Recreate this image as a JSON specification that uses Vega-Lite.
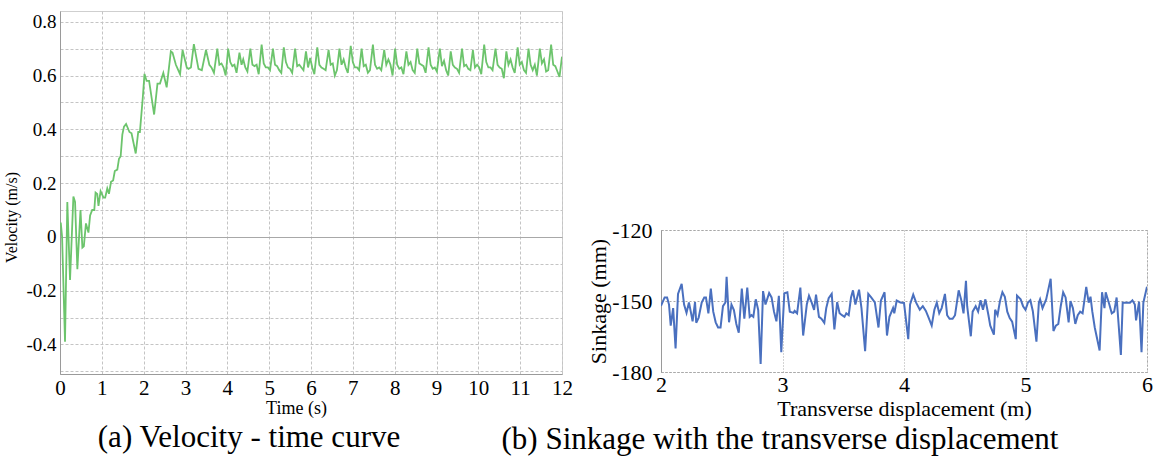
{
  "$schema": "https://vega.github.io/schema/vega-lite/v6.json",
  "background": "white",
  "padding": {"left": 3, "top": 10, "right": 0, "bottom": 0},
  "config": {
    "font": "Liberation Serif",
    "axis": {"labelFont": "Liberation Serif", "titleFont": "Liberation Serif", "labelColor": "#000", "titleColor": "#000", "titleFontWeight": "normal", "labelOverlap": false},
    "title": {"font": "Liberation Serif", "fontWeight": "normal", "color": "#000"}
  },
  "datasets": {
    "vel": [
      {"t":0.00,"v":0.05},{"t":0.02,"v":0.05},{"t":0.05,"v":0.00},{"t":0.12,"v":-0.39},{"t":0.175,"v":0.13},{"t":0.24,"v":-0.16},{"t":0.32,"v":0.15},{"t":0.36,"v":0.13},{"t":0.415,"v":-0.12},{"t":0.49,"v":0.10},{"t":0.535,"v":-0.04},{"t":0.57,"v":-0.035},{"t":0.62,"v":0.05},{"t":0.68,"v":0.016},{"t":0.72,"v":0.08},{"t":0.77,"v":0.10},{"t":0.82,"v":0.10},{"t":0.85,"v":0.165},{"t":0.89,"v":0.16},{"t":0.92,"v":0.115},{"t":0.97,"v":0.17},{"t":1.04,"v":0.146},{"t":1.08,"v":0.146},{"t":1.13,"v":0.18},{"t":1.17,"v":0.16},{"t":1.22,"v":0.205},{"t":1.27,"v":0.21},{"t":1.31,"v":0.245},{"t":1.37,"v":0.25},{"t":1.41,"v":0.29},{"t":1.45,"v":0.30},{"t":1.49,"v":0.38},{"t":1.53,"v":0.41},{"t":1.58,"v":0.42},{"t":1.66,"v":0.39},{"t":1.71,"v":0.385},{"t":1.81,"v":0.31},{"t":1.87,"v":0.39},{"t":1.91,"v":0.39},{"t":1.98,"v":0.52},{"t":2.02,"v":0.606},{"t":2.07,"v":0.58},{"t":2.13,"v":0.58},{"t":2.25,"v":0.455},{"t":2.33,"v":0.57},{"t":2.39,"v":0.57},{"t":2.47,"v":0.61},{"t":2.55,"v":0.556},{"t":2.65,"v":0.69},{"t":2.69,"v":0.685},{"t":2.77,"v":0.64},{"t":2.87,"v":0.605},{"t":2.93,"v":0.695},{"t":3.03,"v":0.63},{"t":3.07,"v":0.625},{"t":3.13,"v":0.63},{"t":3.20,"v":0.717},{"t":3.31,"v":0.625},{"t":3.39,"v":0.62},{"t":3.49,"v":0.695},{"t":3.57,"v":0.64},
      {"t":3.62,"v":0.63},{"t":3.68,"v":0.61},{"t":3.76,"v":0.70},{"t":3.81,"v":0.64},{"t":3.86,"v":0.645},{"t":3.91,"v":0.63},{"t":3.96,"v":0.60},{"t":4.02,"v":0.70},{"t":4.07,"v":0.65},{"t":4.12,"v":0.635},{"t":4.17,"v":0.64},{"t":4.22,"v":0.61},{"t":4.29,"v":0.685},{"t":4.34,"v":0.64},{"t":4.38,"v":0.66},{"t":4.43,"v":0.63},{"t":4.48,"v":0.615},{"t":4.55,"v":0.70},{"t":4.60,"v":0.64},{"t":4.65,"v":0.635},{"t":4.70,"v":0.64},{"t":4.75,"v":0.605},{"t":4.82,"v":0.715},{"t":4.87,"v":0.645},{"t":4.92,"v":0.63},{"t":4.97,"v":0.63},{"t":5.02,"v":0.62},{"t":5.09,"v":0.70},{"t":5.14,"v":0.64},{"t":5.19,"v":0.635},{"t":5.24,"v":0.62},{"t":5.29,"v":0.61},{"t":5.35,"v":0.705},{"t":5.40,"v":0.65},{"t":5.45,"v":0.63},{"t":5.50,"v":0.625},{"t":5.55,"v":0.61},{"t":5.62,"v":0.70},{"t":5.67,"v":0.635},{"t":5.72,"v":0.64},{"t":5.77,"v":0.63},{"t":5.82,"v":0.62},{"t":5.88,"v":0.69},{"t":5.93,"v":0.63},{"t":5.98,"v":0.665},{"t":6.03,"v":0.63},{"t":6.08,"v":0.605},{"t":6.15,"v":0.705},{"t":6.20,"v":0.64},{"t":6.25,"v":0.63},{"t":6.30,"v":0.625},{"t":6.35,"v":0.62},{"t":6.42,"v":0.695},{"t":6.47,"v":0.64},{"t":6.52,"v":0.645},{"t":6.57,"v":0.60},{"t":6.62,"v":0.62},{"t":6.68,"v":0.70},{"t":6.73,"v":0.64},{"t":6.78,"v":0.66},{"t":6.83,"v":0.63},{"t":6.88,"v":0.61},{"t":6.95,"v":0.71},{"t":7.00,"v":0.65},{"t":7.05,"v":0.63},{"t":7.10,"v":0.63},{"t":7.15,"v":0.62},{"t":7.21,"v":0.70},{"t":7.26,"v":0.635},{"t":7.31,"v":0.64},{"t":7.36,"v":0.61},{"t":7.41,"v":0.62},{"t":7.48,"v":0.715},{"t":7.53,"v":0.64},{"t":7.58,"v":0.625},{"t":7.63,"v":0.63},{"t":7.68,"v":0.62},{"t":7.75,"v":0.695},{"t":7.80,"v":0.64},{"t":7.85,"v":0.66},{"t":7.90,"v":0.64},{"t":7.95,"v":0.60},{"t":8.01,"v":0.70},{"t":8.06,"v":0.64},{"t":8.11,"v":0.625},{"t":8.16,"v":0.63},{"t":8.21,"v":0.605},{"t":8.28,"v":0.69},{"t":8.33,"v":0.64},{"t":8.38,"v":0.65},{"t":8.43,"v":0.62},{"t":8.48,"v":0.61},{"t":8.54,"v":0.70},{"t":8.59,"v":0.645},{"t":8.64,"v":0.64},{"t":8.69,"v":0.635},{"t":8.74,"v":0.61},{"t":8.81,"v":0.705},{"t":8.86,"v":0.64},{"t":8.91,"v":0.625},{"t":8.96,"v":0.63},{"t":9.01,"v":0.615},{"t":9.08,"v":0.70},{"t":9.13,"v":0.635},{"t":9.18,"v":0.655},{"t":9.23,"v":0.62},{"t":9.28,"v":0.60},{"t":9.34,"v":0.69},{"t":9.39,"v":0.64},{"t":9.44,"v":0.63},{"t":9.49,"v":0.625},{"t":9.54,"v":0.61},{"t":9.61,"v":0.70},{"t":9.66,"v":0.635},{"t":9.71,"v":0.64},{"t":9.76,"v":0.625},{"t":9.81,"v":0.62},{"t":9.87,"v":0.695},{"t":9.92,"v":0.63},{"t":9.97,"v":0.64},{"t":10.02,"v":0.63},{"t":10.07,"v":0.605},{"t":10.14,"v":0.715},{"t":10.19,"v":0.65},{"t":10.24,"v":0.63},{"t":10.29,"v":0.63},{"t":10.34,"v":0.62},{"t":10.41,"v":0.70},{"t":10.46,"v":0.64},{"t":10.51,"v":0.63},{"t":10.56,"v":0.625},{"t":10.61,"v":0.59},{"t":10.67,"v":0.69},{"t":10.72,"v":0.64},{"t":10.77,"v":0.66},{"t":10.82,"v":0.63},{"t":10.87,"v":0.61},{"t":10.94,"v":0.705},{"t":10.99,"v":0.64},{"t":11.04,"v":0.65},{"t":11.09,"v":0.62},{"t":11.14,"v":0.61},{"t":11.20,"v":0.70},{"t":11.25,"v":0.64},{"t":11.30,"v":0.62},{"t":11.35,"v":0.64},{"t":11.40,"v":0.60},{"t":11.47,"v":0.70},{"t":11.52,"v":0.645},{"t":11.57,"v":0.66},{"t":11.62,"v":0.615},{"t":11.67,"v":0.62},{"t":11.74,"v":0.715},{"t":11.79,"v":0.64},{"t":11.84,"v":0.635},{"t":11.89,"v":0.615},{"t":11.94,"v":0.595},{"t":12.00,"v":0.67}
    ],
    "sink": [
      {"d":2.00,"s":-152},{"d":2.03,"s":-148.5},{"d":2.05,"s":-148.5},{"d":2.066,"s":-151.5},{"d":2.08,"s":-160.4},{"d":2.10,"s":-153},{"d":2.12,"s":-170},{"d":2.14,"s":-147},{"d":2.17,"s":-142.8},{"d":2.19,"s":-151.5},{"d":2.21,"s":-155},{"d":2.23,"s":-150.6},{"d":2.245,"s":-154.5},{"d":2.26,"s":-158.6},{"d":2.28,"s":-150.5},{"d":2.29,"s":-159.2},{"d":2.31,"s":-157},{"d":2.335,"s":-150.7},{"d":2.356,"s":-148.5},{"d":2.37,"s":-148.5},{"d":2.39,"s":-155.2},{"d":2.41,"s":-144.8},{"d":2.43,"s":-154.5},{"d":2.45,"s":-159},{"d":2.47,"s":-161.2},{"d":2.49,"s":-161.2},{"d":2.51,"s":-152.2},{"d":2.53,"s":-150.6},{"d":2.54,"s":-139.8},{"d":2.56,"s":-159},{"d":2.58,"s":-151.5},{"d":2.60,"s":-153.8},{"d":2.62,"s":-159.7},{"d":2.64,"s":-163.4},{"d":2.665,"s":-144.8},{"d":2.686,"s":-157.5},{"d":2.71,"s":-144.3},{"d":2.73,"s":-156.7},{"d":2.745,"s":-156},{"d":2.76,"s":-156.7},{"d":2.78,"s":-149.3},{"d":2.80,"s":-153.8},{"d":2.82,"s":-176.6},{"d":2.84,"s":-145.8},{"d":2.86,"s":-151.5},{"d":2.89,"s":-146.6},{"d":2.91,"s":-148.5},{"d":2.93,"s":-154.5},{"d":2.95,"s":-158.6},{"d":2.97,"s":-147.8},{"d":2.99,"s":-171.6},{"d":3.015,"s":-146.7},{"d":3.04,"s":-146.3},{"d":3.06,"s":-154.5},{"d":3.09,"s":-155},{"d":3.10,"s":-154.2},{"d":3.12,"s":-155.2},{"d":3.147,"s":-144.3},{"d":3.17,"s":-164.6},{"d":3.20,"s":-151.5},{"d":3.218,"s":-147.8},{"d":3.24,"s":-150.6},{"d":3.26,"s":-153.8},{"d":3.276,"s":-147.3},{"d":3.30,"s":-156.7},{"d":3.32,"s":-157.5},{"d":3.344,"s":-159.2},{"d":3.36,"s":-153},{"d":3.38,"s":-148.8},{"d":3.405,"s":-147},{"d":3.427,"s":-162},{"d":3.45,"s":-150.5},{"d":3.47,"s":-155.2},{"d":3.49,"s":-156},{"d":3.51,"s":-156.7},{"d":3.525,"s":-155.2},{"d":3.545,"s":-156},{"d":3.564,"s":-148.5},{"d":3.58,"s":-145.5},{"d":3.60,"s":-151.5},{"d":3.63,"s":-145.2},{"d":3.65,"s":-153},{"d":3.68,"s":-171.2},{"d":3.706,"s":-147},{"d":3.73,"s":-148.5},{"d":3.76,"s":-150.6},{"d":3.79,"s":-161.2},{"d":3.81,"s":-149.8},{"d":3.84,"s":-146.3},{"d":3.86,"s":-164.6},{"d":3.88,"s":-156.7},{"d":3.91,"s":-153},{"d":3.92,"s":-155.2},{"d":3.94,"s":-149.8},{"d":3.97,"s":-150.6},{"d":4.00,"s":-150.8},
      {"d":4.035,"s":-166.1},{"d":4.05,"s":-151.5},{"d":4.076,"s":-147.3},{"d":4.10,"s":-150.7},{"d":4.13,"s":-153.7},{"d":4.155,"s":-152.2},{"d":4.18,"s":-154.2},{"d":4.20,"s":-156.7},{"d":4.228,"s":-160.4},{"d":4.25,"s":-153.7},{"d":4.27,"s":-150.7},{"d":4.29,"s":-155.2},{"d":4.31,"s":-153},{"d":4.337,"s":-147},{"d":4.355,"s":-156},{"d":4.375,"s":-157.5},{"d":4.40,"s":-157.5},{"d":4.42,"s":-156},{"d":4.45,"s":-145.5},{"d":4.47,"s":-149.3},{"d":4.49,"s":-155.2},{"d":4.51,"s":-141.5},{"d":4.52,"s":-152.2},{"d":4.55,"s":-164.9},{"d":4.565,"s":-154.5},{"d":4.59,"s":-152.2},{"d":4.61,"s":-154.5},{"d":4.63,"s":-149.7},{"d":4.65,"s":-153.7},{"d":4.67,"s":-149.3},{"d":4.695,"s":-156},{"d":4.71,"s":-160.4},{"d":4.74,"s":-164.2},{"d":4.75,"s":-153.7},{"d":4.77,"s":-156},{"d":4.79,"s":-150},{"d":4.81,"s":-146.3},{"d":4.83,"s":-148.2},{"d":4.85,"s":-154.5},{"d":4.87,"s":-157.2},{"d":4.89,"s":-158.7},{"d":4.92,"s":-166.1},{"d":4.93,"s":-147.7},{"d":4.96,"s":-149.3},{"d":4.98,"s":-152.2},{"d":5.00,"s":-153.7},{"d":5.02,"s":-150.7},{"d":5.04,"s":-149.7},{"d":5.06,"s":-154.2},{"d":5.09,"s":-167.2},{"d":5.11,"s":-150.7},{"d":5.12,"s":-149.3},{"d":5.14,"s":-153},{"d":5.17,"s":-149.3},{"d":5.18,"s":-147},{"d":5.207,"s":-140.6},{"d":5.23,"s":-162.7},{"d":5.25,"s":-160.4},{"d":5.27,"s":-159.7},{"d":5.29,"s":-152.2},{"d":5.31,"s":-146.3},{"d":5.33,"s":-148.5},{"d":5.355,"s":-159},{"d":5.37,"s":-150},{"d":5.39,"s":-153},{"d":5.41,"s":-159.7},{"d":5.43,"s":-156},{"d":5.45,"s":-154.5},{"d":5.47,"s":-155.2},{"d":5.50,"s":-144},{"d":5.52,"s":-150.7},{"d":5.535,"s":-148.2},{"d":5.55,"s":-154.5},{"d":5.57,"s":-161.2},{"d":5.61,"s":-170.9},{"d":5.63,"s":-146.3},{"d":5.65,"s":-153},{"d":5.66,"s":-146.3},{"d":5.69,"s":-151.5},{"d":5.71,"s":-155.2},{"d":5.73,"s":-154.5},{"d":5.75,"s":-148.5},{"d":5.785,"s":-172.8},{"d":5.80,"s":-150.7},{"d":5.83,"s":-150.7},{"d":5.86,"s":-150.7},{"d":5.88,"s":-149.7},{"d":5.90,"s":-151.5},{"d":5.91,"s":-158.2},{"d":5.935,"s":-150.3},{"d":5.955,"s":-171.6},{"d":5.97,"s":-150.7},{"d":6.00,"s":-144}
    ]
  },
  "bounds": "flush",
  "spacing": 99,
  "hconcat": [
    {
      "width": 502,
      "height": 363,
      "data": {"name": "vel"},
      "view": {"stroke": "#cfcfcf", "strokeWidth": 1},
      "title": {"text": "(a) Velocity - time curve", "orient": "bottom", "anchor": "middle", "frame": "group", "fontSize": 31, "dx": -62, "offset": 6},
      "mark": {"type": "line", "color": "#6cc46c", "strokeWidth": 1.8, "clip": true},
      "encoding": {
        "x": {
          "field": "t", "type": "quantitative",
          "scale": {"domain": [0, 12], "nice": false},
          "axis": {"values": [0,1,2,3,4,5,6,7,8,9,10,11,12], "grid": true, "gridColor": "#c4c4c4", "gridDash": [3, 2], "domainColor": "#9a9a9a", "ticks": false, "labelFontSize": 21, "labelPadding": 3, "labelFlush": false, "title": "Time (s)", "titleFontSize": 18, "titlePadding": 1, "titleX": 236}
        },
        "y": {
          "field": "v", "type": "quantitative",
          "scale": {"domain": [-0.51, 0.84], "nice": false, "zero": false},
          "axis": {"values": [-0.5,-0.4,-0.3,-0.2,-0.1,0,0.1,0.2,0.3,0.4,0.5,0.6,0.7,0.8], "labelExpr": "datum.value == 0 ? '0' : (round(datum.value*10) % 2 == 0 ? (datum.value < 0 ? '-' : '') + format(abs(datum.value), '.1f') : '')", "grid": true, "gridColor": {"condition": {"test": "datum.value == 0", "value": "#a8a8a8"}, "value": "#c4c4c4"}, "gridDash": {"condition": {"test": "datum.value == 0", "value": []}, "value": [3, 2]}, "domainColor": "#9a9a9a", "ticks": false, "labelFontSize": 19, "labelPadding": 4, "title": "Velocity (m/s)", "titleFontSize": 16, "titlePadding": 6, "titleY": 206}
        }
      }
    },
    {
      "spacing": 0,
      "bounds": "flush",
      "vconcat": [
        {
          "width": 486,
          "height": 219,
          "data": {"values": []},
          "view": {"stroke": null, "fill": "white"},
          "mark": "point"
        },
        {
          "width": 486,
          "height": 142,
          "data": {"name": "sink"},
          "view": {"stroke": "#aaaaaa", "strokeDash": [2, 2], "strokeWidth": 1},
          "title": {"text": "(b) Sinkage with the transverse displacement", "orient": "bottom", "anchor": "middle", "frame": "group", "fontSize": 31, "dx": -124, "offset": 6},
          "mark": {"type": "line", "color": "#4a70bf", "strokeWidth": 2, "clip": true},
          "encoding": {
            "x": {
              "field": "d", "type": "quantitative",
              "scale": {"domain": [2, 6], "nice": false, "zero": false},
              "axis": {"values": [2,3,4,5,6], "grid": true, "gridColor": "#a8a8a8", "gridDash": [1, 2], "domainColor": "#aaaaaa", "domainDash": [2, 2], "ticks": false, "labelFontSize": 22, "labelPadding": 2, "labelFlush": false, "title": "Transverse displacement (m)", "titleFontSize": 22, "titlePadding": 3}
            },
            "y": {
              "field": "s", "type": "quantitative",
              "scale": {"domain": [-180, -120], "nice": false, "zero": false},
              "axis": {"values": [-180, -150, -120], "labelExpr": "'-' + format(abs(datum.value), 'd')", "grid": true, "gridColor": "#a8a8a8", "gridDash": [2, 2], "domainColor": "#9a9a9a", "ticks": false, "labelFontSize": 22, "labelPadding": 9, "title": "Sinkage (mm)", "titleFontSize": 22, "titlePadding": 1}
            }
          }
        }
      ]
    }
  ]
}
